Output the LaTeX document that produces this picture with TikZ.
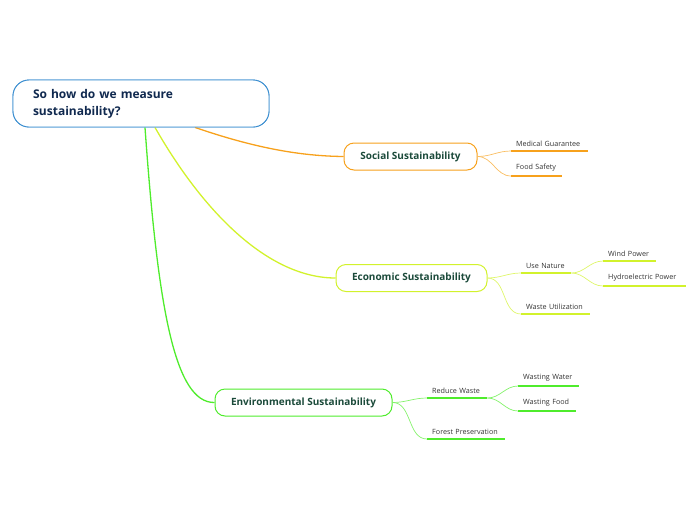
\documentclass[tikz,border=0pt]{standalone}
\usepackage{fontspec}
\setmainfont{Open Sans}
\usepackage{xcolor}
\usetikzlibrary{positioning, calc}

\definecolor{rootblue}{HTML}{3B8ED0}
\definecolor{rootink}{HTML}{10294F}
\definecolor{topicink}{HTML}{1B4A3A}
\definecolor{socorange}{HTML}{F7A11C}
\definecolor{ecolime}{HTML}{D2F22C}
\definecolor{envgreen}{HTML}{4FEC2C}

\begin{document}
\begin{tikzpicture}[
  x=1pt, y=-1pt,
  every node/.style={font=\sffamily},
  rootbox/.style={draw=rootblue, line width=0.9pt, rounded corners=16pt, fill=white,
    minimum width=256pt, minimum height=47pt, text width=216pt, align=left,
    font=\fontsize{12}{17}\selectfont\bfseries, text=rootink},
  topic/.style={draw=#1, line width=1pt, rounded corners=10pt, fill=white,
    minimum height=27pt, inner xsep=0pt, font=\fontsize{10}{12}\selectfont\bfseries, text=topicink},
  subtopic/.style={anchor=south west, inner xsep=5pt, inner ysep=4.5pt, align=left,
    font=\fontsize{7.2}{9}\selectfont, text=black!80,
    execute at begin node=\hbox\bgroup, execute at end node=\egroup,
    append after command={\pgfextra{\draw[#1, line width=1.6pt]
      (\tikzlastnode.south west) -- (\tikzlastnode.south east);}}},
  link/.style={#1, line width=1.3pt},
  twig/.style={#1!70, line width=0.7pt}
]
\useasboundingbox (0,0) rectangle (696,520);

% Central question
\node[rootbox] (root) at (141,103.5) {So how do we measure\\sustainability?};

% Main topics
\node[topic=socorange, minimum width=133pt] (social) at (410.5,156.5) {Social Sustainability};
\node[topic=ecolime, minimum width=151pt] (economic) at (411.5,278) {Economic Sustainability};
\node[topic=envgreen, minimum width=177pt] (environ) at (303.5,402.5) {Environmental Sustainability};

% Social subtopics
\node[subtopic=socorange, text width=67pt] (medical) at (511,151) {Medical Guarantee};
\node[subtopic=socorange, text width=41pt] (food) at (511,176) {Food Safety};

% Economic subtopics
\node[subtopic=ecolime, text width=40pt] (nature) at (521,273) {Use Nature};
\node[subtopic=ecolime, text width=43pt] (wind) at (603,261) {Wind Power};
\node[subtopic=ecolime, text width=73pt] (hydro) at (603,286) {Hydroelectric Power};
\node[subtopic=ecolime, text width=59pt] (wasteuse) at (521,314) {Waste Utilization};

% Environmental subtopics
\node[subtopic=envgreen, text width=50pt] (reduce) at (427,398) {Reduce Waste};
\node[subtopic=envgreen, text width=51pt] (water) at (518,386) {Wasting Water};
\node[subtopic=envgreen, text width=48pt] (wfood) at (518,411) {Wasting Food};
\node[subtopic=envgreen, text width=68pt] (forest) at (427,439) {Forest Preservation};

% Links from the question
\draw[link=socorange] ([xshift=54pt]root.south) .. controls (255,148) and (300,156) .. (social.west);
\draw[link=ecolime] ([xshift=14pt]root.south) .. controls (205,215) and (270,278) .. (economic.west);
\draw[link=envgreen] ([xshift=4pt]root.south) .. controls (158,310) and (175,403) .. (environ.west);

% Links to subtopics
\draw[twig=socorange] (social.east) to[out=0, in=180] (medical.south west);
\draw[twig=socorange] (social.east) to[out=0, in=180] (food.south west);
\draw[twig=ecolime] (economic.east) to[out=0, in=180] (nature.south west);
\draw[twig=ecolime] (economic.east) to[out=0, in=180] (wasteuse.south west);
\draw[twig=ecolime] (nature.south east) to[out=0, in=180] (wind.south west);
\draw[twig=ecolime] (nature.south east) to[out=0, in=180] (hydro.south west);
\draw[twig=envgreen] (environ.east) to[out=0, in=180] (reduce.south west);
\draw[twig=envgreen] (environ.east) to[out=0, in=180] (forest.south west);
\draw[twig=envgreen] (reduce.south east) to[out=0, in=180] (water.south west);
\draw[twig=envgreen] (reduce.south east) to[out=0, in=180] (wfood.south west);

% Redraw the question box over link ends
\node[rootbox] at (root) {So how do we measure\\sustainability?};
\end{tikzpicture}
\end{document}
